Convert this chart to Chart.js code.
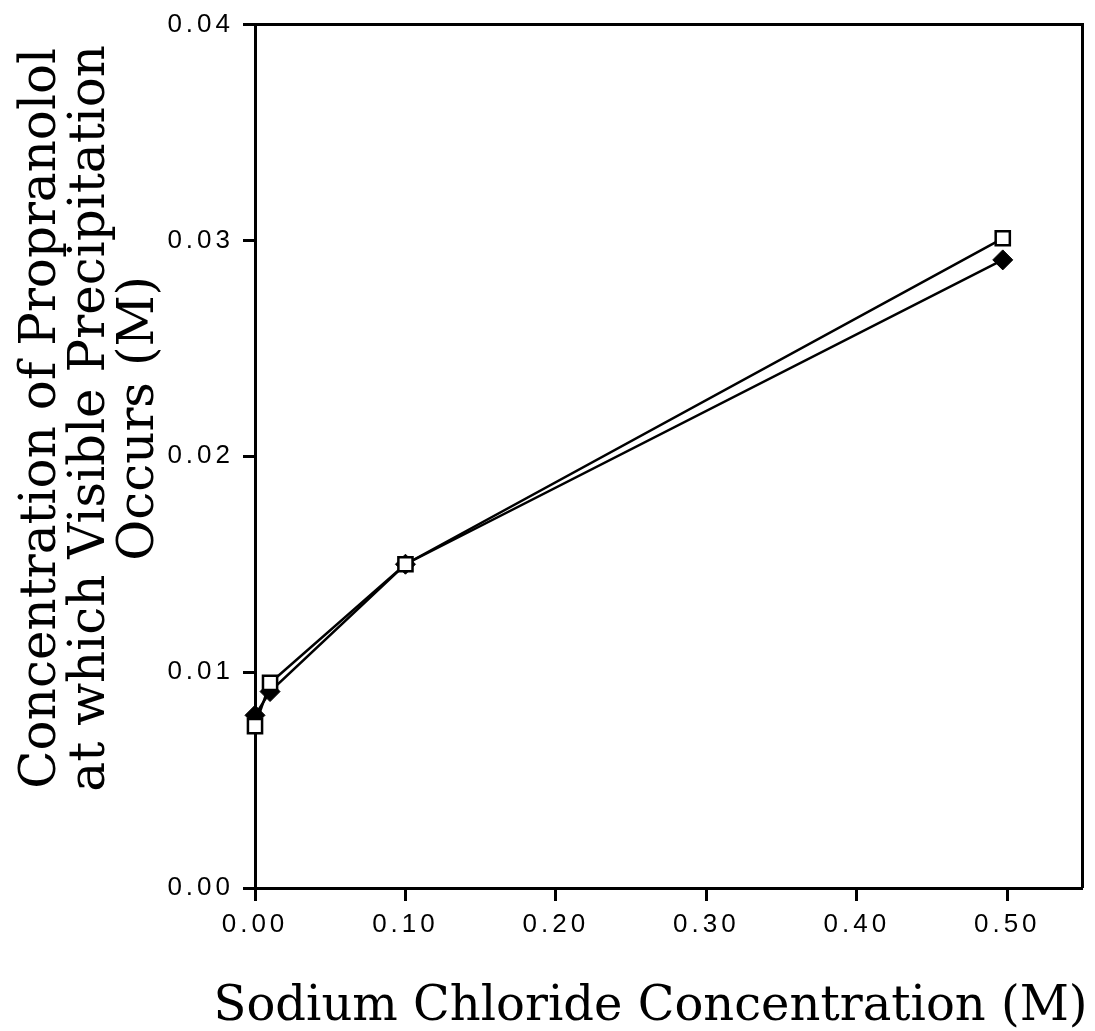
<!DOCTYPE html>
<html><head><meta charset="utf-8">
<script src="https://cdn.jsdelivr.net/npm/chart.js@4.4.0/dist/chart.umd.min.js"></script>
<style>html,body{margin:0;padding:0;background:#fff}canvas{display:block}</style>
</head><body>
<canvas id="c" width="1095" height="1031"></canvas>
<script>
const naclConc = [0, 0.01, 0.10, 0.497];
const openSeries = [0.0075, 0.0095, 0.0150, 0.0301];
const filledSeries = [0.0080, 0.0091, 0.0150, 0.0291];
const xTickValues = [0, 0.1, 0.2, 0.3, 0.4, 0.5];
const yTickValues = [0, 0.01, 0.02, 0.03, 0.04];
const xTitle = 'Sodium Chloride Concentration (M)';
const yTitle = ['Concentration of Propranolol', 'at which Visible Precipitation', 'Occurs (M)'];

const toPts = (xs, ys) => xs.map((x, i) => ({x: x, y: ys[i]}));

const framePlugin = {
  id: 'frame',
  afterDatasetsDraw(chart) {
    const {ctx, chartArea: a} = chart;
    ctx.save();
    ctx.strokeStyle = '#000';
    ctx.lineWidth = 3;
    ctx.beginPath();
    ctx.moveTo(a.left, a.top);
    ctx.lineTo(a.right, a.top);
    ctx.lineTo(a.right, a.bottom);
    ctx.stroke();
    ctx.restore();
    ctx.letterSpacing = '4px';
  },
  afterDraw(chart) {
    const {ctx, chartArea: a} = chart;
    ctx.letterSpacing = '0px';
    ctx.save();
    ctx.fillStyle = '#000';
    ctx.textAlign = 'center';
    ctx.textBaseline = 'alphabetic';
    // x-axis title
    ctx.font = '48px "DejaVu Serif"';
    ctx.fillText(xTitle, a.left + (a.right - a.left) * 0.478, a.bottom + 132);
    // y-axis title (rotated, three lines)
    ctx.font = '50px "DejaVu Serif"';
    const cy = a.top + (a.bottom - a.top) * 0.456;
    const baseX = [55, 104, 153];
    yTitle.forEach((line, i) => {
      ctx.save();
      ctx.translate(baseX[i], cy);
      ctx.rotate(-Math.PI / 2);
      ctx.fillText(line, 0, 0);
      ctx.restore();
    });
    ctx.restore();
  }
};

const tickFont = {family: '"Liberation Sans", Arial, sans-serif', size: 26};

new Chart(document.getElementById('c'), {
  type: 'scatter',
  data: {
    datasets: [
      {
        data: toPts(naclConc, openSeries),
        showLine: true,
        clip: false,
        borderColor: '#000',
        borderWidth: 2.5,
        pointStyle: 'rect',
        pointRadius: 10,
        pointBackgroundColor: '#fff',
        pointBorderColor: '#000',
        pointBorderWidth: 2.5,
        tension: 0
      },
      {
        data: toPts(naclConc, filledSeries),
        showLine: true,
        clip: false,
        borderColor: '#000',
        borderWidth: 2.5,
        pointStyle: 'rectRot',
        pointRadius: 10,
        pointBackgroundColor: '#000',
        pointBorderColor: '#000',
        pointBorderWidth: 1,
        tension: 0
      }
    ]
  },
  options: {
    responsive: false,
    animation: false,
    devicePixelRatio: 1,
    layout: {padding: {left: 0, top: 24, right: 2, bottom: 0}},
    plugins: {legend: {display: false}, tooltip: {enabled: false}},
    scales: {
      x: {
        type: 'linear',
        min: 0,
        max: 0.55,
        afterBuildTicks(scale) { scale.ticks = xTickValues.map(v => ({value: v})); },
        afterFit(scale) { scale.height = 143; },
        grid: {display: true, drawOnChartArea: false, drawTicks: true, tickLength: 13, tickWidth: 3, tickColor: '#000'},
        border: {display: true, color: '#000', width: 3},
        ticks: {z: 1, color: '#000', font: tickFont, padding: 8, maxRotation: 0,
          callback: v => Number(v).toFixed(2)},
        title: {display: false}
      },
      y: {
        type: 'linear',
        min: 0,
        max: 0.04,
        afterBuildTicks(scale) { scale.ticks = yTickValues.map(v => ({value: v})); },
        afterFit(scale) { scale.width = 255; },
        grid: {display: true, drawOnChartArea: false, drawTicks: true, tickLength: 12, tickWidth: 3, tickColor: '#000'},
        border: {display: true, color: '#000', width: 3},
        ticks: {z: 1, color: '#000', font: tickFont, padding: 9,
          callback: v => Number(v).toFixed(2)},
        title: {display: false}
      }
    }
  },
  plugins: [framePlugin]
});
</script>
</body></html>
